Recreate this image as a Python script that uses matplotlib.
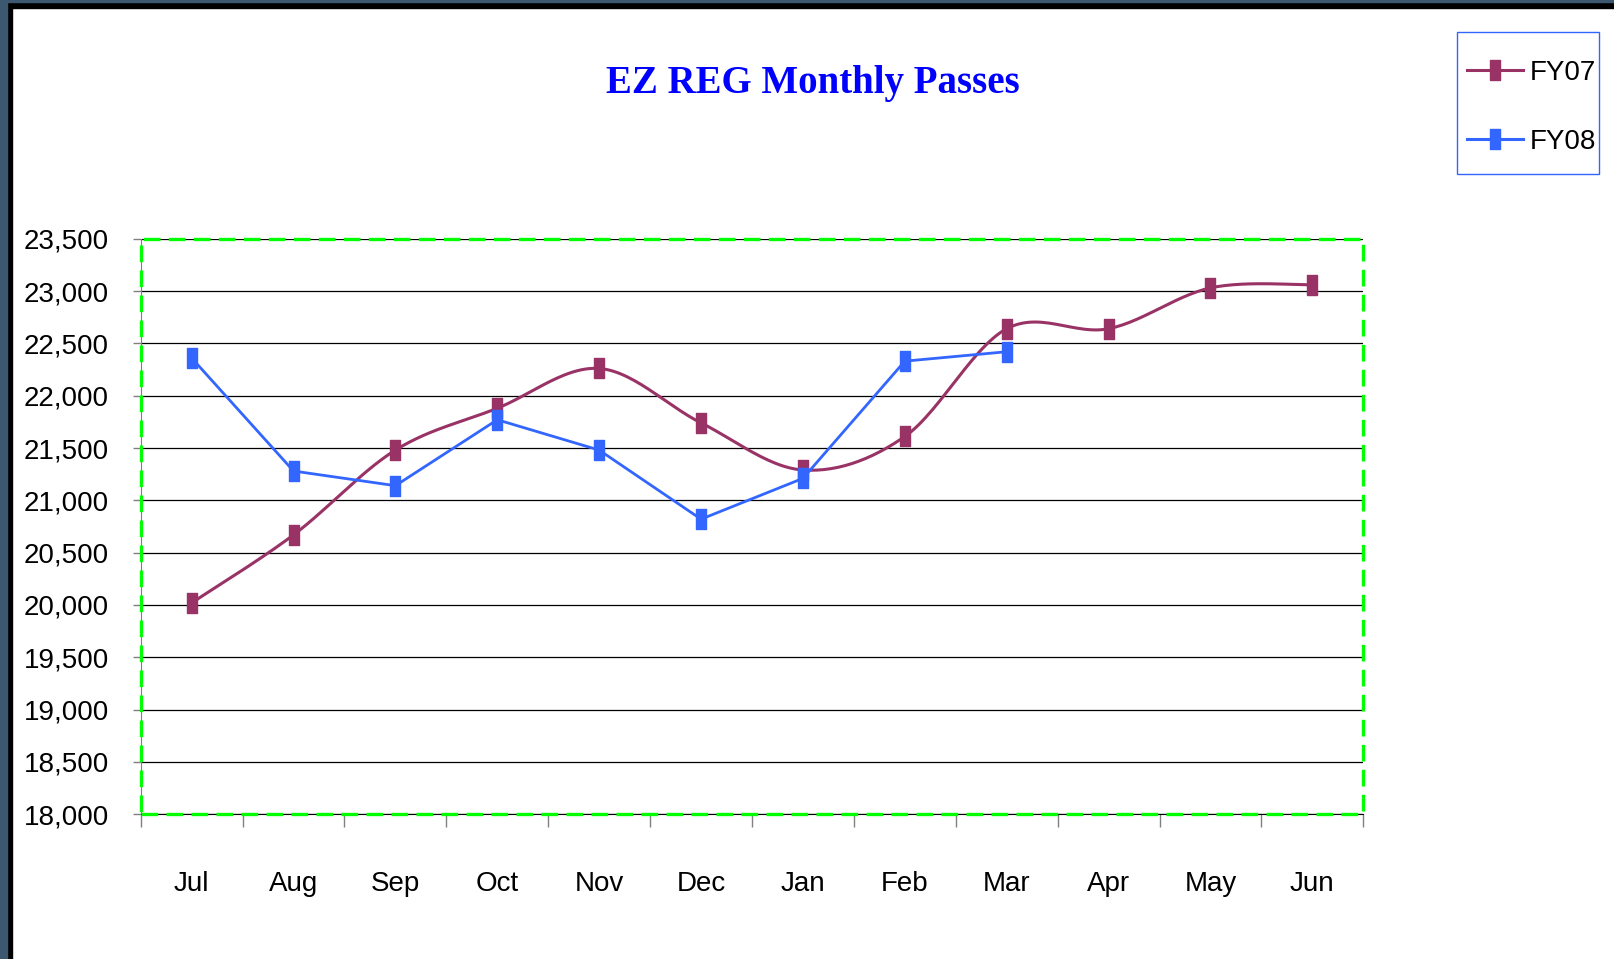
import numpy as np
import matplotlib
matplotlib.use("Agg")
import matplotlib.pyplot as plt
from matplotlib import font_manager
from matplotlib.path import Path
from matplotlib.patches import Rectangle
from matplotlib.ticker import FuncFormatter

months = ['Jul', 'Aug', 'Sep', 'Oct', 'Nov', 'Dec', 'Jan', 'Feb', 'Mar', 'Apr', 'May', 'Jun']
fy07 = [20020, 20670, 21480, 21880, 22260, 21740, 21290, 21610, 22640, 22640, 23030, 23060]
fy08 = [22360, 21280, 21140, 21770, 21480, 20820, 21210, 22330, 22420]
series_names = ['FY07', 'FY08']
title = 'EZ REG Monthly Passes'

W, H, DPI = 1615, 959, 100

# pick a narrow sans if the box has one
names = {f.name for f in font_manager.fontManager.ttflist}
if 'Liberation Sans Narrow' in names:
    label_font, label_size, leg_size = 'Liberation Sans Narrow', 24, 24
else:
    label_font, label_size, leg_size = 'Liberation Sans', 20, 20


def smooth(xs, ys, n=30):
    # excel-style smoothed line (bezier with 1/6 tangents)
    pts = np.column_stack([xs, ys]).astype(float)
    out = []
    for i in range(len(pts) - 1):
        p0 = pts[max(i - 1, 0)]
        p1 = pts[i]
        p2 = pts[i + 1]
        p3 = pts[min(i + 2, len(pts) - 1)]
        c1 = p1 + (p2 - p0) / 6
        c2 = p2 - (p3 - p1) / 6
        t = np.linspace(0, 1, n)[:, None]
        seg = ((1 - t) ** 3) * p1 + 3 * ((1 - t) ** 2) * t * c1 + 3 * (1 - t) * t ** 2 * c2 + t ** 3 * p2
        out.append(seg if i == 0 else seg[1:])
    out = np.vstack(out)
    return out[:, 0], out[:, 1]


# tall rectangle marker
bar_marker = Path([(-0.26, -0.5), (0.26, -0.5), (0.26, 0.5), (-0.26, 0.5), (-0.26, -0.5)],
                  [Path.MOVETO, Path.LINETO, Path.LINETO, Path.LINETO, Path.CLOSEPOLY])

fig = plt.figure(figsize=(W / DPI, H / DPI), dpi=DPI)
fig.patch.set_facecolor('white')
ax = fig.add_axes([140.7 / W, 1 - 814.3 / H, (1363.3 - 140.7) / W, (814.3 - 238.7) / H])

x07 = np.arange(len(fy07))
x08 = np.arange(len(fy08))
c07, c08 = '#993366', '#3366FF'

sx, sy = smooth(x07, fy07)
ax.plot(sx, sy, color=c07, lw=2.2, zorder=3)
ax.plot(x07, fy07, linestyle='none', marker=bar_marker, ms=14, color=c07, mec=c07, zorder=4)
ax.plot(x08, fy08, color=c08, lw=2.0, marker=bar_marker, ms=14, mec=c08, zorder=5)

# legend proxies
h07, = ax.plot([], [], color=c07, lw=2.2, marker=bar_marker, ms=14, mec=c07)
h08, = ax.plot([], [], color=c08, lw=2.2, marker=bar_marker, ms=14, mec=c08)

ax.set_xlim(-0.5, len(months) - 0.5)
ax.set_ylim(18000, 23500)
ax.set_yticks(np.arange(18000, 23501, 500))
ax.yaxis.set_major_formatter(FuncFormatter(lambda v, p: f'{int(v):,}'))
ax.grid(axis='y', color='black', lw=0.9, zorder=1)
ax.set_axisbelow(True)

ax.set_xticks(np.arange(-0.5, len(months)), labels=[])
ax.set_xticks(np.arange(len(months)), labels=months, minor=True)
ax.tick_params(axis='x', which='major', length=9, width=1, color='#808080', direction='out')
ax.tick_params(axis='x', which='minor', length=0, pad=41)
ax.tick_params(axis='y', length=6, width=1, color='#808080', pad=17)
for lab in ax.get_xticklabels(minor=True) + ax.get_yticklabels():
    lab.set_fontfamily(label_font)
    lab.set_fontsize(label_size)

for s in ['top', 'right']:
    ax.spines[s].set_visible(False)
ax.spines['left'].set_color('#808080')
ax.spines['bottom'].set_color('black')

# green dashed plot-area border
ax.add_patch(Rectangle((0, 0), 1, 1, transform=ax.transAxes, fill=False, edgecolor='#00FF00',
                       lw=2.4, linestyle=(0, (5, 2.5)), clip_on=False, zorder=6))

fig.text(813 / W, 1 - 93 / H, title, ha='center', va='baseline', color='#0000FF',
         fontsize=28, fontweight='bold', family='Liberation Serif')

# legend entries without frame, box drawn separately
leg = fig.legend([h07, h08], series_names, loc='upper left', bbox_to_anchor=(1467 / W, 1 - 60 / H),
                 prop={'family': label_font, 'size': leg_size}, frameon=False,
                 handlelength=2.0, handletextpad=0.25, labelspacing=1.55,
                 borderpad=0, borderaxespad=0)
fig.patches.append(Rectangle((1457 / W, 1 - 174 / H), 142 / W, 142 / H, transform=fig.transFigure,
                             fill=False, edgecolor='#3366FF', lw=1.0))

# dark window frame on top and left
fig.patches.append(Rectangle((0, 1 - 8 / H), 1, 8 / H, transform=fig.transFigure, color='black', zorder=10))
fig.patches.append(Rectangle((0, 1 - 2 / H), 1, 2 / H, transform=fig.transFigure, color='#3B5870', zorder=11))
fig.patches.append(Rectangle((0, 0), 12 / W, 1, transform=fig.transFigure, color='black', zorder=10))
fig.patches.append(Rectangle((0, 0), 7 / W, 1, transform=fig.transFigure, color='#3B5870', zorder=11))

fig.savefig('out.png', dpi=DPI)
